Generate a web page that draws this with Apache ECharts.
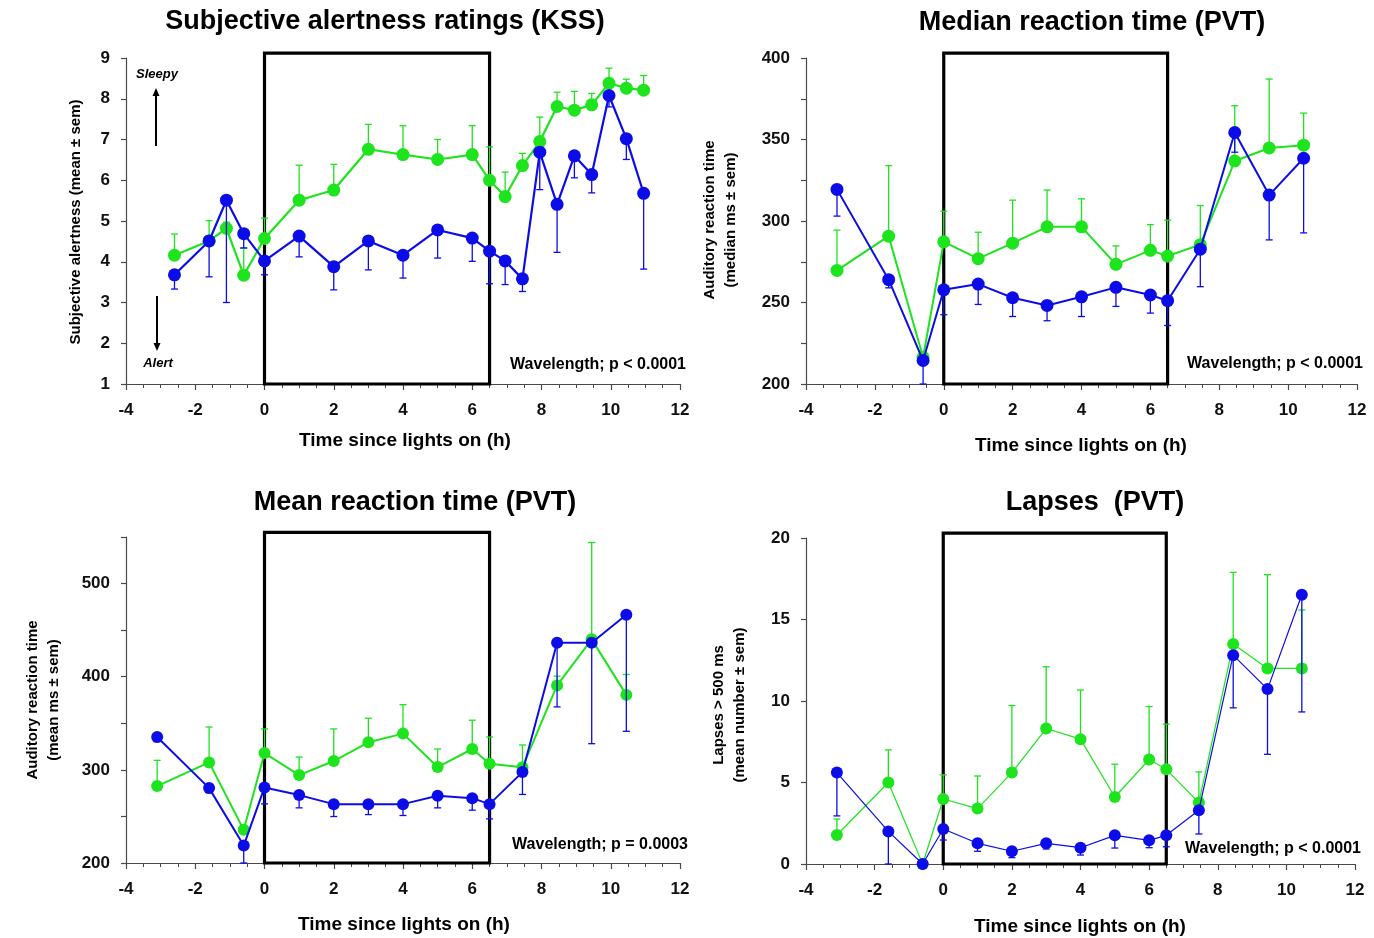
<!DOCTYPE html>
<html>
<head>
<meta charset="utf-8">
<title>Alertness and PVT performance</title>
<script src="https://cdn.jsdelivr.net/npm/echarts@6/dist/echarts.min.js"></script>
<style>
  html, body { margin: 0; padding: 0; background: #ffffff; }
  #chart { width: 1374px; height: 938px; }
</style>
</head>
<body>
<div id="chart"></div>
<script>
// ---- Data (hours since lights on; green = 460 nm condition, blue = 555 nm condition) ----
const kssHours = [-2.6, -1.6, -1.1, -0.6, 0, 1, 2, 3, 4, 5, 6, 6.5, 6.95, 7.45, 7.95, 8.45, 8.95, 9.45, 9.95, 10.45, 10.95];
const kssGreen = [4.16, 4.51, 4.82, 3.67, 4.57, 5.51, 5.76, 6.76, 6.63, 6.51, 6.63, 6.0, 5.6, 6.36, 6.95, 7.81, 7.72, 7.85, 8.38, 8.26, 8.21];
const kssGreenSem = [0.52, 0.5, 0.15, 0.66, 0.5, 0.86, 0.63, 0.61, 0.71, 0.49, 0.71, 0.82, 0.6, 0.3, 0.6, 0.35, 0.46, 0.28, 0.37, 0.22, 0.36];
const kssBlue = [3.68, 4.51, 5.51, 4.69, 4.02, 4.63, 3.88, 4.51, 4.16, 4.78, 4.58, 4.26, 4.02, 3.58, 6.69, 5.41, 6.6, 6.14, 8.08, 7.02, 5.68];
const kssBlueSem = [0.35, 0.88, 2.51, 0.35, 0.34, 0.51, 0.57, 0.71, 0.56, 0.69, 0.57, 0.8, 0.58, 0.31, 0.92, 1.18, 0.54, 0.45, 0.28, 0.51, 1.86];

const pvtHours = [-3.1, -1.6, -0.6, 0, 1, 2, 3, 4, 5, 6, 6.5, 7.45, 8.45, 9.45, 10.45];

const medianGreen = [269.7, 290.7, 216.4, 287.2, 276.9, 286.4, 296.4, 296.4, 273.4, 282, 278.5, 285.5, 336.8, 344.8, 346.5];
const medianGreenSem = [24.7, 43.3, 3, 18.8, 16.2, 26.4, 22.6, 17.2, 11.3, 15.8, 22, 24, 33.9, 42.3, 19.7];
const medianBlue = [319.4, 264, 214.4, 257.8, 261.3, 252.9, 248.2, 253.5, 259.3, 254.6, 251.1, 282.7, 354.3, 315.9, 338.5];
const medianBlueSem = [16.4, 5, 14.4, 15.3, 12.5, 11.5, 9.4, 12.1, 11.7, 11.1, 15.2, 23, 12.1, 27.5, 45.8];

const meanGreen = [282.6, 308, 235.6, 318, 294.4, 309.5, 329.6, 338.9, 303, 322.4, 306.6, 302.7, 390.6, 440.1, 380.5];
const meanGreenSem = [27.6, 38, 3, 25.9, 19.4, 34.4, 25.8, 31.1, 19.4, 30.9, 28.7, 24, 10, 104, 21.9];
const meanBlue = [335.3, 280.4, 218.7, 281.1, 272.9, 263.2, 263.2, 263.2, 272.2, 269.6, 263.2, 297.6, 436.5, 436.5, 466.6];
const meanBlueSem = [5, 5, 18.7, 17.6, 13.7, 13.3, 11.2, 12.2, 13, 12.9, 15.8, 24, 68.9, 108.4, 125.2];

const lapseGreen = [1.78, 5.0, 0, 3.99, 3.4, 5.61, 8.31, 7.66, 4.11, 6.41, 5.81, 3.77, 13.49, 12.0, 12.0];
const lapseGreenSem = [0.98, 2.0, 0, 1.48, 2.0, 4.11, 3.79, 3.01, 2.01, 3.25, 2.77, 1.88, 4.4, 5.75, 3.58];
const lapseBlue = [5.61, 2.0, 0, 2.15, 1.27, 0.78, 1.27, 1.0, 1.76, 1.45, 1.76, 3.3, 12.81, 10.73, 16.52];
const lapseBlueSem = [2.66, 2.0, 0, 0.68, 0.49, 0.39, 0.35, 0.45, 0.78, 0.45, 0.7, 1.46, 3.23, 4.0, 7.19];

// Light exposure window (h) and the upper edge of the box in each panel's units
const lightWindow = [0, 6.5];
const boxTops = [9.12, 403, 555, 20.3];

// Axis ranges and tick steps
const yMins = [1, 200, 200, 0];
const yMaxs = [9, 400, 550, 20];
const yTickSteps = [1, 25, 50, 5];
const yLabelSteps = [1, 50, 100, 5];
const xTickLabels = [-4, -2, 0, 2, 4, 6, 8, 10, 12];

// Text
const panelTitles = ['Subjective alertness ratings (KSS)', 'Median reaction time (PVT)', 'Mean reaction time (PVT)', 'Lapses  (PVT)'];
const yTitles = ['Subjective alertness (mean \u00b1 sem)', 'Auditory reaction time\n(median ms \u00b1 sem)', 'Auditory reaction time\n(mean ms \u00b1 sem)', 'Lapses > 500 ms\n(mean number \u00b1 sem)'];
const xTitle = 'Time since lights on (h)';
const statNotes = ['Wavelength; p < 0.0001', 'Wavelength; p < 0.0001', 'Wavelength; p = 0.0003', 'Wavelength; p < 0.0001'];

// ---- Styling ----
const GREEN = '#1de41d';
const BLUE = '#0c0ce8';
const FONT = "'Liberation Sans', Arial, sans-serif";
const AXIS_COLOR = '#4a4a4a';

const grids = [
  { left: 126, top: 58, width: 554, height: 326 },
  { left: 806, top: 58, width: 551, height: 326 },
  { left: 126, top: 537, width: 554, height: 326 },
  { left: 806, top: 538, width: 549, height: 326 }
];

const panels = [
  { x: kssHours, g: kssGreen, gs: kssGreenSem, b: kssBlue, bs: kssBlueSem, size: 13, lw: 2.2 },
  { x: pvtHours, g: medianGreen, gs: medianGreenSem, b: medianBlue, bs: medianBlueSem, size: 13, lw: 2 },
  { x: pvtHours, g: meanGreen, gs: meanGreenSem, b: meanBlue, bs: meanBlueSem, size: 12, lw: 2 },
  { x: pvtHours, g: lapseGreen, gs: lapseGreenSem, b: lapseBlue, bs: lapseBlueSem, size: 12, lw: 1.2 }
];

function xAxisFor(i) {
  return {
    type: 'value', gridIndex: i, min: xTickLabels[0], max: xTickLabels[xTickLabels.length - 1], interval: 2,
    axisLine: { show: true, onZero: false, lineStyle: { color: AXIS_COLOR, width: 1.2 } },
    axisTick: { show: true, length: 6, lineStyle: { color: AXIS_COLOR, width: 1.2 } },
    minorTick: { show: true, splitNumber: 4, length: 4, lineStyle: { color: AXIS_COLOR, width: 1 } },
    splitLine: { show: false },
    axisLabel: { color: '#111', fontSize: 17, fontWeight: 'bold', fontFamily: FONT, margin: 18 }
  };
}

function yAxisFor(i) {
  const step = yLabelSteps[i];
  return {
    type: 'value', gridIndex: i, min: yMins[i], max: yMaxs[i], interval: yTickSteps[i],
    axisLine: { show: true, onZero: false, lineStyle: { color: AXIS_COLOR, width: 1.2 } },
    axisTick: { show: true, length: 5, lineStyle: { color: AXIS_COLOR, width: 1.2 } },
    splitLine: { show: false },
    axisLabel: {
      color: '#111', fontSize: 17, fontWeight: 'bold', fontFamily: FONT, margin: 16,
      formatter: function (v) {
        const r = Math.round(v * 1000) / 1000;
        return (Math.abs(r / step - Math.round(r / step)) < 1e-6) ? String(r) : '';
      }
    }
  };
}

function boxSeries(i) {
  return {
    type: 'custom', xAxisIndex: i, yAxisIndex: i, z: 1, silent: true, clip: false,
    data: [[lightWindow[0], lightWindow[1], yMins[i], boxTops[i]]],
    renderItem: function (params, api) {
      const p0 = api.coord([api.value(0), api.value(3)]);
      const p1 = api.coord([api.value(1), api.value(2)]);
      return {
        type: 'rect',
        shape: { x: p0[0], y: p0[1], width: p1[0] - p0[0], height: p1[1] - p0[1] },
        style: { fill: 'none', stroke: '#000', lineWidth: 3.2 }
      };
    }
  };
}

// Error bars: green drawn upwards, blue drawn downwards
function errorSeries(i, xs, means, sems, dir, color, z) {
  return {
    type: 'custom', xAxisIndex: i, yAxisIndex: i, z: z, silent: true, clip: false,
    data: xs.map(function (x, k) { return [x, means[k], means[k] + dir * sems[k]]; }),
    encode: { x: 0, y: [1, 2] },
    renderItem: function (params, api) {
      const a = api.coord([api.value(0), api.value(1)]);
      const b = api.coord([api.value(0), api.value(2)]);
      const st = { stroke: color, lineWidth: 1.3 };
      return {
        type: 'group',
        children: [
          { type: 'line', shape: { x1: a[0], y1: a[1], x2: b[0], y2: b[1] }, style: st },
          { type: 'line', shape: { x1: b[0] - 3.5, y1: b[1], x2: b[0] + 3.5, y2: b[1] }, style: st }
        ]
      };
    }
  };
}

function lineSeries(i, xs, means, color, size, lw, z) {
  return {
    type: 'line', xAxisIndex: i, yAxisIndex: i, z: z, clip: false,
    data: xs.map(function (x, k) { return [x, means[k]]; }),
    symbol: 'circle', symbolSize: size, showSymbol: true,
    lineStyle: { color: color, width: lw },
    itemStyle: { color: color },
    emphasis: { disabled: true }
  };
}

const series = [];
panels.forEach(function (p, i) {
  series.push(boxSeries(i));
  series.push(errorSeries(i, p.x, p.g, p.gs, 1, GREEN, 2));
  series.push(lineSeries(i, p.x, p.g, GREEN, p.size, p.lw, 3));
  series.push(errorSeries(i, p.x, p.b, p.bs, -1, BLUE, 4));
  series.push(lineSeries(i, p.x, p.b, BLUE, p.size, p.lw, 5));
});

// ---- Text and annotations ----
const titleCenters = [[385, 22], [1092, 23], [415, 503], [1095, 503]];
const yTitleCenters = [[76, 222], [720, 220], [43, 700], [729, 705]];
const xTitleCenters = [[405, 441], [1081, 446], [404, 925], [1080, 927]];
const noteAnchors = [[686, 365], [1363, 364], [688, 845], [1361, 849]];

const graphics = [];
for (let i = 0; i < 4; i++) {
  graphics.push({
    type: 'text', x: titleCenters[i][0], y: titleCenters[i][1], z: 10,
    style: { text: panelTitles[i], font: 'bold 27px ' + FONT, fill: '#000', textAlign: 'center', textVerticalAlign: 'middle' }
  });
  graphics.push({
    type: 'text', x: yTitleCenters[i][0], y: yTitleCenters[i][1], rotation: Math.PI / 2, z: 10,
    style: { text: yTitles[i], font: 'bold 15px ' + FONT, lineHeight: 21, fill: '#000', textAlign: 'center', textVerticalAlign: 'middle' }
  });
  graphics.push({
    type: 'text', x: xTitleCenters[i][0], y: xTitleCenters[i][1], z: 10,
    style: { text: xTitle, font: 'bold 19px ' + FONT, fill: '#000', textAlign: 'center', textVerticalAlign: 'middle' }
  });
  graphics.push({
    type: 'text', x: noteAnchors[i][0], y: noteAnchors[i][1], z: 10,
    style: { text: statNotes[i], font: 'bold 16px ' + FONT, fill: '#000', textAlign: 'right', textVerticalAlign: 'middle' }
  });
}

// Sleepy / Alert direction cues on the KSS panel
graphics.push(
  { type: 'text', x: 157, y: 74, style: { text: 'Sleepy', font: 'italic bold 13px ' + FONT, fill: '#000', textAlign: 'center', textVerticalAlign: 'middle' } },
  { type: 'line', shape: { x1: 156, y1: 146, x2: 156, y2: 95 }, style: { stroke: '#000', lineWidth: 2 } },
  { type: 'polygon', shape: { points: [[156, 88], [152.5, 96], [159.5, 96]] }, style: { fill: '#000' } },
  { type: 'line', shape: { x1: 157, y1: 296, x2: 157, y2: 344 }, style: { stroke: '#000', lineWidth: 2 } },
  { type: 'polygon', shape: { points: [[157, 351], [153.5, 343], [160.5, 343]] }, style: { fill: '#000' } },
  { type: 'text', x: 158, y: 363, style: { text: 'Alert', font: 'italic bold 13px ' + FONT, fill: '#000', textAlign: 'center', textVerticalAlign: 'middle' } }
);

const chart = echarts.init(document.getElementById('chart'), null, { renderer: 'canvas' });
chart.setOption({
  backgroundColor: '#ffffff',
  animation: false,
  grid: grids,
  xAxis: [0, 1, 2, 3].map(xAxisFor),
  yAxis: [0, 1, 2, 3].map(yAxisFor),
  series: series,
  graphic: graphics
});
</script>
</body>
</html>
